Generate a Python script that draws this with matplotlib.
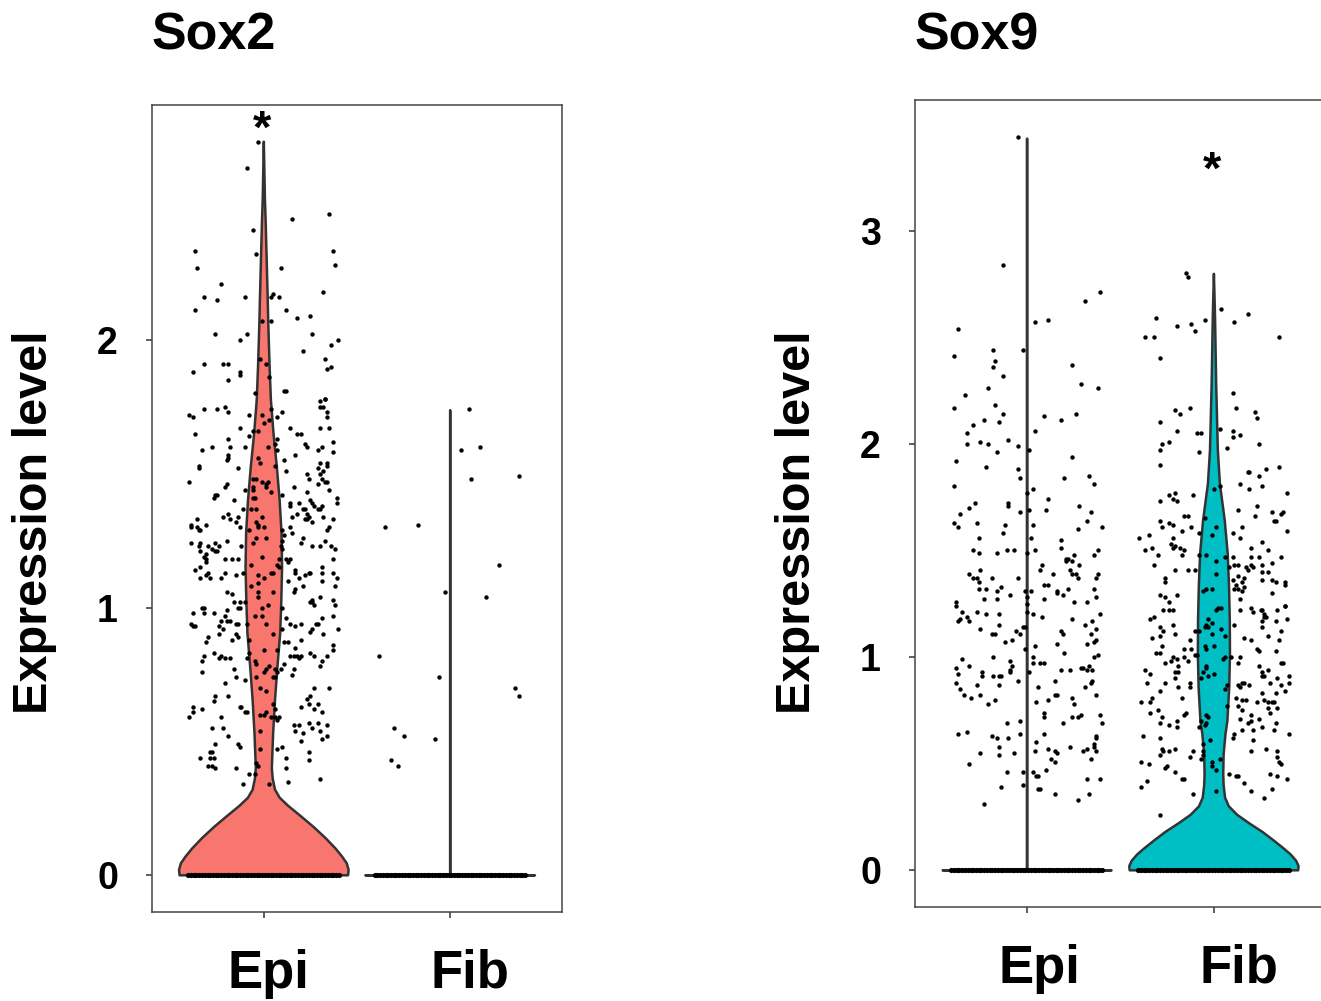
import numpy as np
import matplotlib
matplotlib.use("Agg")
import matplotlib.pyplot as plt
from matplotlib.transforms import ScaledTranslation

plt.rcParams["font.family"] = ["Liberation Sans", "DejaVu Sans"]
plt.rcParams["font.weight"] = "bold"

# groups and colours
groups = ["Epi", "Fib"]
fill_colours = {"Sox2": "#F8766D", "Sox9": "#00BFC4"}

# violin outlines: (expression level, half width in category units)
sox2_epi_violin = [(0.0, 0.452), (0.02, 0.455), (0.045, 0.445), (0.07, 0.42), (0.10, 0.385),
                   (0.14, 0.33), (0.18, 0.268), (0.22, 0.2), (0.26, 0.13), (0.29, 0.085),
                   (0.32, 0.06), (0.36, 0.048), (0.40, 0.043), (0.53, 0.05), (0.654, 0.06),
                   (0.778, 0.073), (0.905, 0.088), (1.028, 0.094), (1.151, 0.098), (1.278, 0.095),
                   (1.40, 0.085), (1.525, 0.07), (1.65, 0.052), (1.776, 0.038), (1.9, 0.031),
                   (2.06, 0.024), (2.15, 0.021), (2.44, 0.01), (2.523, 0.006), (2.74, 0.0)]
sox2_fib_violin = [(0.0, 0.455), (0.004, 0.0), (1.736, 0.0)]
sox9_epi_violin = [(0.0, 0.452), (0.004, 0.0), (3.43, 0.0)]
sox9_fib_violin = [(0.0, 0.451), (0.02, 0.453), (0.045, 0.44), (0.075, 0.41), (0.105, 0.37),
                   (0.14, 0.32), (0.18, 0.26), (0.22, 0.19), (0.26, 0.125), (0.30, 0.08),
                   (0.34, 0.06), (0.40, 0.052), (0.45, 0.05), (0.544, 0.052), (0.639, 0.062),
                   (0.70, 0.072), (0.795, 0.078), (0.857, 0.082), (1.014, 0.086), (1.171, 0.085),
                   (1.327, 0.081), (1.484, 0.074), (1.641, 0.058), (1.813, 0.032), (1.97, 0.021),
                   (2.285, 0.012), (2.597, 0.006), (2.797, 0.0)]

# jittered cells with zero expression (offset from group centre)
zero_x = [-0.405, -0.391, -0.376, -0.362, -0.347, -0.331, -0.318, -0.302, -0.289, -0.273,
          -0.258, -0.245, -0.229, -0.214, -0.2, -0.186, -0.171, -0.155, -0.142, -0.127,
          -0.111, -0.098, -0.083, -0.068, -0.053, -0.039, -0.024, -0.009, 0.006, 0.02,
          0.036, 0.05, 0.065, 0.079, 0.094, 0.11, 0.123, 0.139, 0.153, 0.168, 0.182,
          0.197, 0.212, 0.226, 0.241, 0.256, 0.27, 0.285, 0.299, 0.314, 0.329, 0.343,
          0.358, 0.372, 0.387, 0.402]

# expressing cells: (jitter offset, expression level)
sox2_epi_cells = [
    (-0.03, 2.74), (-0.09, 2.64), (0.35, 2.47), (0.15, 2.45), (-0.06, 2.41), (-0.37, 2.33), (-0.04, 2.32),
    (0.37, 2.33), (-0.36, 2.27), (0.38, 2.28), (0.09, 2.27), (-0.23, 2.21), (0.32, 2.18), (-0.32, 2.16),
    (-0.25, 2.15), (-0.10, 2.16), (0.05, 2.17), (0.04, 2.16), (0.08, 2.16), (-0.37, 2.11), (0.12, 2.11),
    (0.18, 2.08), (0.25, 2.09), (-0.01, 2.07), (0.04, 2.07), (-0.26, 2.02), (-0.09, 2.02), (-0.13, 2.00),
    (0.26, 2.02), (0.40, 2.00), (0.36, 1.98), (0.21, 1.96), (0.33, 1.93), (0.36, 1.90), (0.34, 1.89),
    (-0.02, 1.93), (0.01, 1.91), (0.03, 1.86), (-0.38, 1.88), (-0.32, 1.91), (-0.22, 1.91), (-0.19, 1.91),
    (-0.13, 1.88), (-0.13, 1.87), (-0.19, 1.85), (-0.05, 1.80), (0.11, 1.81), (0.12, 1.81), (0.33, 1.78),
    (-0.40, 1.72), (-0.38, 1.71), (-0.32, 1.74), (-0.25, 1.74), (-0.21, 1.75), (-0.19, 1.73), (-0.08, 1.72),
    (-0.01, 1.72), (0.04, 1.74), (0.10, 1.73), (0.00, 1.69), (0.03, 1.70), (0.07, 1.71), (0.30, 1.77),
    (0.33, 1.78), (0.30, 1.75), (0.32, 1.75), (0.34, 1.73), (0.34, 1.71), (0.30, 1.67), (0.35, 1.67),
    (0.14, 1.67), (-0.13, 1.67), (-0.03, 1.66), (-0.06, 1.66), (-0.37, 1.65), (-0.19, 1.63), (-0.08, 1.64),
    (0.18, 1.65), (0.20, 1.65), (0.07, 1.63), (0.06, 1.61), (0.22, 1.61), (0.37, 1.62), (-0.33, 1.59),
    (-0.28, 1.60), (-0.18, 1.60), (-0.10, 1.60), (0.02, 1.60), (0.07, 1.59), (0.23, 1.60), (0.29, 1.59),
    (0.31, 1.60), (0.37, 1.58), (0.17, 1.57), (-0.19, 1.56), (-0.19, 1.57), (-0.20, 1.55), (-0.03, 1.56),
    (0.11, 1.55), (0.30, 1.54), (0.34, 1.54), (0.34, 1.53), (0.29, 1.52), (-0.02, 1.54), (0.06, 1.53),
    (-0.35, 1.53), (-0.35, 1.52), (-0.14, 1.52), (0.12, 1.51), (0.23, 1.50), (0.30, 1.50), (0.32, 1.51),
    (0.24, 1.48), (0.31, 1.48), (0.33, 1.47), (0.34, 1.47), (0.29, 1.46), (-0.40, 1.47), (-0.06, 1.48),
    (-0.04, 1.48), (-0.01, 1.47), (0.02, 1.47), (-0.06, 1.45), (0.01, 1.45), (0.01, 1.46), (-0.20, 1.46),
    (-0.21, 1.45), (0.16, 1.45), (0.35, 1.44), (-0.06, 1.44), (-0.10, 1.44), (0.04, 1.43), (-0.25, 1.42),
    (-0.26, 1.42), (-0.27, 1.41), (0.23, 1.43), (0.39, 1.41), (-0.06, 1.41), (-0.05, 1.41), (0.10, 1.42),
    (-0.16, 1.40), (0.25, 1.40), (0.14, 1.39), (0.19, 1.39), (0.26, 1.39), (0.39, 1.39), (0.14, 1.38),
    (0.27, 1.38), (-0.07, 1.37), (-0.04, 1.37), (-0.11, 1.37), (0.21, 1.37), (0.22, 1.37), (0.29, 1.37),
    (0.30, 1.37), (0.31, 1.38), (0.18, 1.35), (0.23, 1.35), (-0.36, 1.33), (-0.22, 1.34), (-0.19, 1.35),
    (-0.18, 1.33), (-0.14, 1.34), (-0.01, 1.34), (0.15, 1.34), (0.24, 1.34), (0.32, 1.34), (0.22, 1.33),
    (-0.39, 1.31), (-0.39, 1.30), (-0.31, 1.31), (-0.15, 1.32), (-0.04, 1.32), (-0.03, 1.31), (-0.03, 1.30),
    (0.23, 1.33), (0.26, 1.32), (0.37, 1.33), (-0.36, 1.30), (-0.35, 1.29), (-0.34, 1.29), (-0.13, 1.30),
    (-0.08, 1.29), (0.00, 1.30), (0.10, 1.29), (0.14, 1.30), (0.34, 1.29), (0.35, 1.30), (0.15, 1.28),
    (0.11, 1.27), (0.33, 1.25), (-0.04, 1.26), (0.01, 1.26), (0.10, 1.25), (0.21, 1.26), (-0.39, 1.24),
    (-0.35, 1.23), (-0.34, 1.24), (-0.30, 1.23), (-0.26, 1.24), (-0.24, 1.23), (-0.20, 1.25), (-0.12, 1.23),
    (-0.06, 1.24), (0.09, 1.23), (0.10, 1.22), (0.20, 1.24), (0.26, 1.23), (0.30, 1.23), (0.36, 1.23),
    (0.38, 1.22), (-0.34, 1.21), (-0.28, 1.22), (-0.26, 1.21), (-0.25, 1.21), (-0.31, 1.20), (-0.32, 1.19),
    (-0.31, 1.18), (-0.31, 1.17), (-0.21, 1.18), (-0.17, 1.18), (-0.14, 1.18), (-0.01, 1.19), (0.08, 1.18),
    (0.12, 1.18), (0.13, 1.17), (0.14, 1.18), (0.37, 1.18), (0.07, 1.16), (0.08, 1.15), (-0.07, 1.16),
    (0.17, 1.14), (0.17, 1.13), (0.22, 1.12), (0.24, 1.13), (0.25, 1.13), (0.31, 1.15), (0.31, 1.13),
    (0.37, 1.13), (-0.37, 1.14), (-0.34, 1.15), (-0.30, 1.13), (-0.31, 1.12), (-0.29, 1.11), (-0.21, 1.13),
    (-0.15, 1.12), (-0.11, 1.13), (-0.34, 1.11), (-0.23, 1.11), (-0.03, 1.12), (0.00, 1.11), (0.04, 1.13),
    (0.05, 1.13), (0.13, 1.10), (0.19, 1.11), (0.31, 1.10), (0.39, 1.11), (-0.07, 1.08), (-0.03, 1.09),
    (0.21, 1.08), (0.38, 1.08), (-0.20, 1.06), (-0.17, 1.05), (-0.03, 1.06), (0.05, 1.06), (0.16, 1.06),
    (0.17, 1.07), (0.26, 1.03), (0.30, 1.04), (-0.03, 1.04),
    (-0.33, 1.00), (-0.32, 1.00), (-0.32, 0.98), (-0.27, 0.98), (-0.38, 0.98), (-0.21, 0.97), (-0.20, 0.99),
    (-0.16, 1.02), (-0.13, 1.02), (-0.13, 1.00), (-0.14, 1.00), (-0.10, 1.02), (-0.01, 1.00), (0.02, 1.01),
    (-0.05, 0.97), (-0.01, 0.97), (0.10, 1.00), (0.25, 1.02), (0.26, 1.02), (0.27, 1.01), (0.37, 1.03),
    (0.38, 1.01), (0.37, 0.97), (0.31, 0.96), (0.12, 0.96), (0.14, 0.94), (0.20, 0.94), (0.28, 0.94),
    (0.29, 0.94), (0.26, 0.92), (0.17, 0.93), (-0.23, 0.95), (-0.20, 0.95), (-0.18, 0.95), (-0.14, 0.94),
    (-0.24, 0.93), (-0.22, 0.92), (-0.39, 0.94), (-0.38, 0.93), (-0.37, 0.93), (-0.15, 0.94), (-0.09, 0.94),
    (0.01, 0.94), (0.10, 0.92), (0.40, 0.92), (-0.30, 0.89), (-0.24, 0.90), (-0.15, 0.90), (-0.14, 0.89),
    (-0.31, 0.87), (-0.17, 0.88), (-0.08, 0.88), (0.05, 0.90), (0.11, 0.87), (0.13, 0.87), (0.20, 0.88),
    (0.25, 0.91), (0.32, 0.90), (0.17, 0.85), (0.07, 0.84), (0.00, 0.84), (0.37, 0.86), (0.37, 0.84),
    (-0.32, 0.82), (-0.27, 0.83), (-0.24, 0.81), (-0.23, 0.82), (-0.21, 0.81), (-0.18, 0.81), (-0.08, 0.83),
    (-0.09, 0.81), (-0.05, 0.80), (0.14, 0.82), (0.16, 0.82), (0.18, 0.82), (0.19, 0.81), (0.20, 0.82),
    (0.25, 0.83), (0.27, 0.82), (0.34, 0.82), (0.31, 0.80), (0.30, 0.78), (-0.33, 0.80), (-0.33, 0.76),
    (-0.04, 0.79), (0.03, 0.78), (0.01, 0.77), (0.00, 0.76), (0.06, 0.77), (0.09, 0.77), (0.07, 0.76),
    (0.11, 0.79), (0.16, 0.77), (0.15, 0.75), (-0.16, 0.77), (-0.15, 0.74), (-0.04, 0.74), (0.05, 0.74),
    (0.06, 0.74), (-0.10, 0.73), (-0.21, 0.72), (-0.02, 0.70), (0.01, 0.69), (-0.19, 0.67), (-0.26, 0.67),
    (-0.27, 0.65), (0.27, 0.70), (0.35, 0.70), (0.23, 0.66), (0.25, 0.67), (0.05, 0.64), (0.20, 0.63),
    (0.24, 0.64), (0.29, 0.64), (0.31, 0.61), (0.27, 0.62), (-0.38, 0.63), (-0.33, 0.62), (-0.38, 0.61),
    (-0.40, 0.59), (-0.13, 0.63), (-0.12, 0.63), (-0.10, 0.61), (-0.09, 0.61), (-0.23, 0.59), (-0.02, 0.60),
    (0.00, 0.60), (0.01, 0.61), (0.04, 0.59), (0.06, 0.59), (0.07, 0.58), (0.08, 0.59), (0.06, 0.62),
    (-0.02, 0.54), (-0.28, 0.55), (-0.22, 0.55), (-0.19, 0.52), (0.16, 0.56), (0.17, 0.54), (0.19, 0.56),
    (0.21, 0.53), (0.24, 0.57), (0.26, 0.55), (0.29, 0.57), (0.30, 0.54), (0.34, 0.56), (0.34, 0.52),
    (0.20, 0.50), (0.31, 0.51), (-0.14, 0.49), (-0.13, 0.48), (-0.26, 0.49), (-0.29, 0.46), (-0.28, 0.46),
    (-0.34, 0.44), (-0.29, 0.44), (-0.27, 0.44), (-0.02, 0.47), (0.07, 0.47), (0.10, 0.48), (0.12, 0.44),
    (0.24, 0.46), (0.24, 0.43), (-0.30, 0.41), (-0.28, 0.41), (-0.26, 0.40), (-0.15, 0.40), (-0.04, 0.42),
    (-0.03, 0.41), (-0.08, 0.38), (-0.05, 0.38), (0.12, 0.40), (0.13, 0.35), (-0.11, 0.34), (0.03, 0.34),
    (0.30, 0.36),
]
sox2_fib_cells = [
    (0.10, 1.74), (0.06, 1.59), (0.16, 1.60), (0.11, 1.48), (0.37, 1.49), (-0.35, 1.30), (-0.17, 1.31),
    (0.26, 1.16), (-0.03, 1.06), (0.19, 1.04), (-0.38, 0.82), (-0.06, 0.74), (0.35, 0.70), (0.37, 0.67),
    (-0.30, 0.55), (-0.25, 0.52), (-0.08, 0.51), (-0.32, 0.43), (-0.28, 0.41),
]
sox9_epi_cells = [
    (-0.05, 3.44), (-0.13, 2.84), (-0.37, 2.54), (-0.39, 2.41), (-0.18, 2.44), (-0.17, 2.39), (-0.18, 2.36),
    (-0.13, 2.32), (-0.02, 2.44), (0.04, 2.57), (0.11, 2.58), (0.31, 2.67), (0.39, 2.71), (0.24, 2.37),
    (0.29, 2.28), (0.38, 2.26), (-0.21, 2.26), (-0.33, 2.23), (-0.39, 2.17), (-0.17, 2.18), (-0.13, 2.14),
    (0.26, 2.14), (0.09, 2.13), (0.18, 2.11), (-0.23, 2.11), (-0.15, 2.10), (-0.29, 2.09), (-0.32, 2.05),
    (0.04, 2.06), (-0.32, 2.00), (-0.25, 2.01), (-0.21, 2.00), (-0.10, 2.02), (-0.05, 1.99), (0.01, 1.97),
    (-0.16, 1.96), (0.24, 1.94), (-0.38, 1.92), (-0.22, 1.89), (-0.05, 1.88), (-0.04, 1.84), (0.20, 1.84),
    (0.33, 1.85), (0.36, 1.81), (-0.39, 1.80), (0.03, 1.79), (0.00, 1.77), (0.11, 1.74), (-0.28, 1.72),
    (-0.31, 1.70), (-0.10, 1.72), (-0.10, 1.71), (-0.04, 1.68), (0.01, 1.69), (0.10, 1.69), (0.28, 1.71),
    (0.34, 1.68), (-0.36, 1.67), (0.32, 1.64), (-0.39, 1.63), (-0.37, 1.61), (-0.27, 1.63), (-0.12, 1.62),
    (0.03, 1.62), (0.27, 1.60), (0.40, 1.61),
    (-0.13, 1.58), (-0.26, 1.56), (0.02, 1.56), (0.18, 1.55), (-0.29, 1.50), (-0.26, 1.49), (-0.16, 1.49),
    (-0.11, 1.50), (-0.07, 1.50), (0.00, 1.49), (0.04, 1.50), (0.18, 1.51), (0.38, 1.50), (0.25, 1.48),
    (0.36, 1.48), (0.21, 1.46), (0.22, 1.46), (0.21, 1.45), (0.24, 1.45), (0.28, 1.43), (0.08, 1.43),
    (0.07, 1.41), (-0.25, 1.41), (0.23, 1.41), (-0.31, 1.39), (0.14, 1.39), (0.24, 1.39), (0.26, 1.39),
    (0.38, 1.39), (-0.29, 1.37), (-0.27, 1.37), (-0.19, 1.37), (-0.05, 1.37), (0.27, 1.37), (0.37, 1.37),
    (-0.26, 1.35), (0.09, 1.34), (0.11, 1.34), (-0.26, 1.32), (-0.22, 1.32), (-0.16, 1.31), (-0.14, 1.33),
    (-0.09, 1.29), (-0.01, 1.31), (0.02, 1.31), (0.00, 1.28), (0.16, 1.31), (0.16, 1.30), (0.19, 1.29),
    (0.22, 1.32), (0.36, 1.32), (0.37, 1.28), (-0.23, 1.27), (-0.16, 1.27), (0.09, 1.27), (-0.38, 1.26),
    (-0.38, 1.24), (0.00, 1.25), (0.25, 1.26), (0.32, 1.26), (-0.35, 1.21), (-0.27, 1.21), (-0.22, 1.20),
    (-0.15, 1.20), (0.00, 1.21), (0.03, 1.20), (0.08, 1.19), (0.39, 1.20), (-0.36, 1.18), (-0.32, 1.19),
    (-0.37, 1.17), (-0.31, 1.17), (0.24, 1.18), (0.35, 1.17), (-0.15, 1.15), (0.31, 1.15), (-0.25, 1.13),
    (-0.02, 1.14), (-0.01, 1.14), (0.18, 1.12), (0.37, 1.13), (-0.19, 1.11), (-0.17, 1.11), (-0.06, 1.12),
    (-0.04, 1.11), (0.19, 1.11), (0.34, 1.11), (-0.08, 1.08), (-0.12, 1.07), (0.16, 1.06), (0.36, 1.07),
    (0.37, 1.08), (0.32, 1.06), (-0.01, 1.04), (0.04, 1.05), (0.20, 1.02), (-0.18, 1.00), (0.03, 1.00),
    (0.36, 1.00), (0.38, 1.01), (-0.35, 0.99), (-0.31, 0.96), (-0.38, 0.95), (-0.09, 0.98), (-0.08, 0.96),
    (-0.09, 0.94), (-0.09, 0.93), (0.03, 0.97), (0.07, 0.97), (0.09, 0.97), (0.18, 0.94), (0.23, 0.94),
    (0.29, 0.95), (0.30, 0.95), (0.32, 0.94), (0.33, 0.96), (0.35, 0.94), (-0.24, 0.93), (0.01, 0.93),
    (-0.37, 0.92), (-0.24, 0.91), (-0.18, 0.91), (-0.15, 0.91), (-0.14, 0.91), (-0.05, 0.89), (0.15, 0.89),
    (0.34, 0.88), (0.35, 0.89), (-0.38, 0.88), (-0.27, 0.87), (-0.15, 0.87), (0.06, 0.86), (0.31, 0.86),
    (-0.36, 0.85), (-0.34, 0.82), (-0.30, 0.81), (-0.25, 0.82), (-0.17, 0.80), (-0.21, 0.78), (0.05, 0.79),
    (0.11, 0.80), (0.15, 0.82), (0.16, 0.82), (0.24, 0.81), (0.37, 0.82), (0.25, 0.78), (0.09, 0.74),
    (0.09, 0.72), (0.24, 0.72), (0.27, 0.72), (0.29, 0.73), (0.39, 0.73), (0.40, 0.69), (0.19, 0.69),
    (-0.11, 0.69), (-0.04, 0.70), (-0.37, 0.64), (-0.32, 0.65), (-0.19, 0.63), (-0.04, 0.64), (0.09, 0.64),
    (0.37, 0.63), (0.37, 0.62), (-0.16, 0.62), (-0.10, 0.62), (-0.15, 0.58), (0.05, 0.60), (0.23, 0.58),
    (0.36, 0.59), (0.36, 0.58), (-0.25, 0.55), (-0.15, 0.54), (-0.07, 0.55), (0.04, 0.56), (0.11, 0.57),
    (0.15, 0.56), (0.16, 0.55), (0.30, 0.56), (0.32, 0.57), (0.37, 0.56), (0.34, 0.52), (0.13, 0.52),
    (0.15, 0.51), (-0.31, 0.50), (0.10, 0.47), (-0.11, 0.46), (-0.02, 0.46), (0.03, 0.46), (0.05, 0.44),
    (0.06, 0.44), (0.32, 0.43), (0.39, 0.43), (-0.02, 0.40), (-0.14, 0.39), (0.06, 0.38), (0.07, 0.38),
    (0.15, 0.36), (0.27, 0.33), (0.33, 0.36), (-0.23, 0.31),
]
sox9_fib_cells = [
    (-0.15, 2.80), (-0.14, 2.78), (0.04, 2.63), (-0.31, 2.59), (-0.05, 2.58), (0.18, 2.61), (0.11, 2.57),
    (-0.12, 2.56), (-0.20, 2.55), (-0.10, 2.53), (-0.37, 2.50), (-0.32, 2.50), (0.35, 2.50), (-0.29, 2.40),
    (0.10, 2.24), (-0.13, 2.17), (0.12, 2.17), (-0.21, 2.16), (-0.18, 2.14), (0.22, 2.15), (0.23, 2.12),
    (-0.29, 2.10), (0.03, 2.07), (0.10, 2.06), (-0.20, 2.06), (-0.09, 2.05), (-0.07, 2.05), (0.14, 2.04),
    (0.10, 2.03), (-0.24, 2.01), (-0.28, 2.00), (0.24, 2.00), (-0.29, 1.97), (-0.08, 1.96), (0.07, 1.98),
    (-0.29, 1.90), (0.18, 1.87), (0.19, 1.87), (0.28, 1.88), (0.35, 1.89), (0.24, 1.85), (0.14, 1.81),
    (0.26, 1.80), (0.00, 1.79), (0.03, 1.80), (0.19, 1.79), (0.39, 1.77), (-0.24, 1.76), (-0.21, 1.77),
    (-0.22, 1.74), (-0.20, 1.73), (-0.11, 1.76), (-0.29, 1.73), (0.23, 1.71), (0.13, 1.69), (0.37, 1.68),
    (0.36, 1.67), (-0.16, 1.66), (-0.14, 1.66), (0.22, 1.66), (-0.05, 1.65), (0.31, 1.68), (0.32, 1.64),
    (0.33, 1.64), (-0.29, 1.64), (-0.24, 1.63), (-0.22, 1.62), (-0.12, 1.61), (0.01, 1.61), (0.15, 1.61),
    (-0.28, 1.61),
    (-0.35, 1.57), (-0.40, 1.56), (-0.22, 1.56), (-0.17, 1.59), (-0.08, 1.58), (-0.01, 1.57), (0.10, 1.58),
    (0.14, 1.56), (0.26, 1.54), (0.39, 1.59), (-0.23, 1.53), (-0.21, 1.52), (-0.22, 1.51), (-0.18, 1.51),
    (-0.16, 1.50), (-0.37, 1.50), (-0.33, 1.51), (-0.30, 1.48), (-0.17, 1.48), (-0.08, 1.48), (-0.04, 1.48),
    (0.06, 1.47), (0.10, 1.47), (0.20, 1.51), (0.29, 1.50), (0.20, 1.47), (0.24, 1.47), (0.36, 1.47),
    (0.01, 1.45), (0.11, 1.43), (0.13, 1.43), (0.08, 1.42), (0.17, 1.42), (0.20, 1.43), (0.21, 1.42),
    (0.26, 1.43), (0.31, 1.44), (-0.32, 1.43), (-0.21, 1.41), (-0.14, 1.41), (-0.10, 1.41), (0.18, 1.41),
    (0.26, 1.40), (0.29, 1.40), (0.01, 1.39), (0.13, 1.38), (-0.26, 1.37), (-0.26, 1.35), (0.10, 1.36),
    (0.12, 1.34), (0.15, 1.35), (0.16, 1.37), (0.26, 1.36), (0.31, 1.36), (0.33, 1.35), (0.38, 1.35),
    (0.38, 1.34), (0.16, 1.33), (0.11, 1.32), (0.13, 1.32), (0.31, 1.30), (0.15, 1.31), (-0.04, 1.32),
    (-0.01, 1.32), (-0.06, 1.31), (-0.29, 1.29), (-0.20, 1.29), (-0.26, 1.28), (-0.24, 1.26), (0.14, 1.27),
    (0.38, 1.24), (-0.27, 1.22), (-0.24, 1.22), (-0.22, 1.22), (0.01, 1.22), (0.02, 1.23), (0.04, 1.23),
    (0.14, 1.22), (0.20, 1.23), (0.21, 1.21), (0.25, 1.22), (0.26, 1.22), (0.27, 1.20), (0.27, 1.19),
    (0.28, 1.19), (0.26, 1.17), (0.34, 1.22), (0.38, 1.24), (0.39, 1.18), (0.33, 1.17), (-0.34, 1.18),
    (-0.32, 1.19), (-0.03, 1.18), (-0.01, 1.16), (-0.22, 1.15), (-0.29, 1.14), (-0.04, 1.15), (-0.03, 1.14),
    (-0.05, 1.14), (0.04, 1.13), (0.11, 1.15), (0.26, 1.14), (-0.21, 1.11), (-0.27, 1.12), (-0.10, 1.12),
    (-0.08, 1.12), (-0.01, 1.11), (0.06, 1.10), (0.29, 1.10), (0.36, 1.12), (-0.33, 1.09), (-0.29, 1.10),
    (-0.13, 1.08), (0.16, 1.09), (0.20, 1.08), (0.35, 1.08), (-0.28, 1.05), (-0.12, 1.04), (-0.05, 1.05),
    (-0.04, 1.04), (0.00, 1.05), (0.23, 1.04), (0.24, 1.03), (0.33, 1.03), (-0.31, 1.02), (-0.29, 1.02),
    (-0.16, 1.04), (-0.22, 1.00), (-0.20, 0.99), (-0.23, 0.98), (-0.26, 0.97), (-0.16, 1.00), (-0.14, 0.98),
    (-0.10, 1.01), (-0.09, 1.01), (0.05, 0.99), (0.06, 1.00), (0.09, 1.00), (0.14, 1.00), (0.13, 0.97),
    (0.24, 0.96), (0.36, 0.97), (0.37, 0.97), (-0.04, 0.96), (-0.04, 0.95), (-0.19, 0.96), (-0.37, 0.94),
    (-0.34, 0.92), (-0.21, 0.93), (-0.19, 0.93), (-0.06, 0.93), (-0.03, 0.91), (0.00, 0.92), (-0.07, 0.90),
    (-0.21, 0.90), (-0.26, 0.88), (-0.36, 0.88), (-0.19, 0.86), (-0.13, 0.88), (-0.13, 0.86), (-0.29, 0.84),
    (0.26, 0.93), (0.27, 0.91), (0.26, 0.91), (0.29, 0.94), (0.34, 0.90), (0.40, 0.91), (0.40, 0.88),
    (0.30, 0.88), (0.36, 0.87), (0.33, 0.83), (0.38, 0.84), (0.07, 0.87), (0.06, 0.85), (0.13, 0.87),
    (0.15, 0.88), (0.16, 0.88), (0.14, 0.86), (0.19, 0.87), (0.26, 0.83), (-0.17, 0.81), (0.12, 0.81),
    (0.15, 0.80), (0.17, 0.80), (0.23, 0.79), (0.27, 0.80), (0.29, 0.79), (0.31, 0.79), (0.32, 0.79),
    (0.34, 0.76), (0.29, 0.76), (0.30, 0.74), (-0.39, 0.79), (-0.34, 0.79), (-0.33, 0.81), (0.07, 0.77),
    (0.13, 0.77), (0.15, 0.75), (-0.30, 0.75), (-0.34, 0.74), (-0.15, 0.74), (-0.16, 0.73), (-0.28, 0.72),
    (-0.29, 0.69), (-0.24, 0.68), (-0.20, 0.70), (-0.20, 0.67), (-0.04, 0.73), (-0.03, 0.72), (-0.07, 0.70),
    (-0.04, 0.69), (-0.05, 0.68), (-0.08, 0.67), (0.14, 0.71), (0.18, 0.69), (0.20, 0.73), (0.20, 0.70),
    (0.24, 0.71), (0.33, 0.69), (0.32, 0.66), (0.26, 0.67), (0.21, 0.66), (0.15, 0.66), (0.11, 0.64),
    (0.10, 0.62), (0.21, 0.61), (0.40, 0.64), (-0.38, 0.63), (-0.29, 0.62), (-0.02, 0.61), (-0.06, 0.59),
    (-0.28, 0.57), (-0.27, 0.56), (-0.24, 0.56), (-0.21, 0.57), (-0.11, 0.56), (-0.13, 0.53), (-0.06, 0.56),
    (-0.06, 0.54), (-0.07, 0.52), (0.20, 0.56), (0.28, 0.57), (0.34, 0.56), (0.34, 0.53), (0.35, 0.51),
    (0.36, 0.50), (-0.29, 0.54), (-0.39, 0.51), (-0.35, 0.50), (-0.01, 0.51), (0.03, 0.52), (-0.01, 0.49),
    (0.01, 0.47), (-0.25, 0.49), (-0.26, 0.48), (-0.21, 0.46), (-0.16, 0.43), (-0.17, 0.43), (0.08, 0.45),
    (0.12, 0.44), (0.13, 0.44), (0.16, 0.41), (0.30, 0.45), (0.34, 0.44), (0.39, 0.43), (-0.36, 0.42),
    (-0.39, 0.39), (0.01, 0.37), (0.20, 0.37), (0.31, 0.38), (0.27, 0.34), (-0.11, 0.36), (-0.29, 0.26),
]

panels = [
    ("Sox2", [sox2_epi_violin, sox2_fib_violin], [sox2_epi_cells, sox2_fib_cells],
     [0, 1, 2], (-0.137, 2.877), (1, 2.735)),
    ("Sox9", [sox9_epi_violin, sox9_fib_violin], [sox9_epi_cells, sox9_fib_cells],
     [0, 1, 2, 3], (-0.172, 3.612), (2, 3.22)),
]

W, H = 1321, 1001
fig = plt.figure(figsize=(W / 100, H / 100), dpi=100)
# axes boxes in pixels: left, top, width, height
boxes = [(152, 105, 410, 807), (915, 100, 411, 807)]
ylabel_x = [35, 797]
# horizontal nudge of the group labels, pixels
label_shift = [(5, 20), (12, 25)]

edge = "#333333"
for (name, violins, cells, yticks, ylim, star), (bx, by, bw, bh), lx, shifts in zip(
        panels, boxes, ylabel_x, label_shift):
    ax = fig.add_axes([bx / W, 1 - (by + bh) / H, bw / W, bh / H])
    for i, (prof, pts) in enumerate(zip(violins, cells)):
        c = i + 1
        prof = np.array(prof)
        yv, wv = prof[:, 0], prof[:, 1]
        # violins for non-expressing groups collapse to a line, draw them unfilled
        face = fill_colours[name] if wv[1:].max() > 0 else "none"
        ax.fill(np.concatenate([c - wv, (c + wv)[::-1]]), np.concatenate([yv, yv[::-1]]),
                facecolor=face, edgecolor=edge, linewidth=1.8, joinstyle="round", zorder=2)
        pts = np.array(pts)
        ax.scatter(c + np.array(zero_x), np.zeros(len(zero_x)), s=14, color="black",
                   linewidths=0, zorder=3)
        ax.scatter(c + pts[:, 0], pts[:, 1], s=10, color="black", linewidths=0, zorder=3)

    ax.text(star[0] - 0.01, star[1], "*", fontsize=34, ha="center", va="baseline", zorder=4)

    ax.set_xlim(0.4, 2.6)
    ax.set_ylim(*ylim)
    ax.set_xticks([1, 2])
    ax.set_xticklabels(groups)
    ax.set_yticks(yticks)
    ax.tick_params(axis="x", labelsize=38, pad=22, length=4.5, width=1.1, color=edge)
    ax.tick_params(axis="y", labelsize=27, pad=20, length=4.5, width=1.1, color=edge)
    for lab, dx in zip(ax.get_xticklabels(), shifts):
        lab.set_transform(lab.get_transform() + ScaledTranslation(dx / 100, 0, fig.dpi_scale_trans))
    for sp in ax.spines.values():
        sp.set_color("#444444")
        sp.set_linewidth(1.1)

    fig.text(bx / W, 1 - 50 / H, name, fontsize=37.5, ha="left", va="baseline")
    fig.text(lx / W, 1 - 522 / H, "Expression level", fontsize=35, rotation=90,
             ha="center", va="center")

fig.savefig("out.png", dpi=100)
